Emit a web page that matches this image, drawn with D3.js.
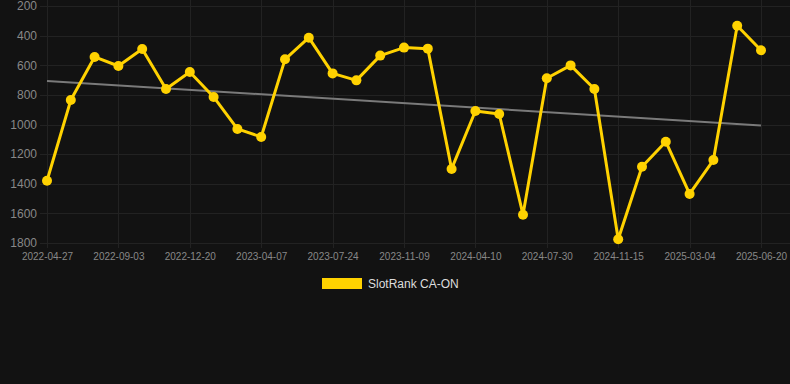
<!DOCTYPE html>
<html>
<head>
<meta charset="utf-8">
<script src="https://cdn.jsdelivr.net/npm/d3@7"></script>
<style>
  html, body { margin: 0; padding: 0; background: #121212; }
  svg { display: block; }
</style>
</head>
<body>
<svg id="chart" width="790" height="384"></svg>
<script>
// ---- data ----
const dates = [
  "2022-04-27","2022-06-08","2022-07-21","2022-09-03","2022-10-09","2022-11-14",
  "2022-12-20","2023-01-25","2023-03-02","2023-04-07","2023-05-13","2023-06-18",
  "2023-07-24","2023-08-29","2023-10-04","2023-11-09","2023-12-30","2024-02-19",
  "2024-04-10","2024-05-17","2024-06-23","2024-07-30","2024-09-05","2024-10-10",
  "2024-11-15","2024-12-21","2025-01-27","2025-03-04","2025-04-09","2025-05-15",
  "2025-06-20"
];
const ranks = [
  1380, 835, 544, 605, 490, 760, 646, 814, 1030, 1084,
  560, 414, 655, 702, 535, 481, 488, 1300, 909, 929,
  1609, 688, 601, 760, 1775, 1285, 1116, 1469, 1240, 333,
  499
];
const yTicks = [200, 400, 600, 800, 1000, 1200, 1400, 1600, 1800];
const seriesName = "SlotRank CA-ON";

(function () {
// ---- layout ----
const W = 790, H = 384;
const pLeft = 47, pRight = 761, pTop = 6, pBottom = 243;
const svg = d3.select("#chart");

const x = d3.scalePoint().domain(dates).range([pLeft, pRight]);
const y = d3.scaleLinear().domain([200, 1800]).range([pTop, pBottom]);

const gridColor = "#222222";
const labelColor = "#888888";

// horizontal grid
svg.append("g").selectAll("line").data(yTicks).join("line")
  .attr("x1", 40).attr("x2", W)
  .attr("y1", d => Math.round(y(d)) + 0.5).attr("y2", d => Math.round(y(d)) + 0.5)
  .attr("stroke", gridColor).attr("stroke-width", 1);

// vertical grid (every 3rd category)
const xTickDates = dates.filter((d, i) => i % 3 === 0);
svg.append("g").selectAll("line").data(xTickDates).join("line")
  .attr("x1", d => Math.round(x(d)) + 0.5).attr("x2", d => Math.round(x(d)) + 0.5)
  .attr("y1", 0).attr("y2", pBottom + 5)
  .attr("stroke", gridColor).attr("stroke-width", 1);

// y axis labels
const yAxis = d3.axisLeft(y).tickValues(yTicks).tickFormat(d3.format("d")).tickSize(0).tickPadding(0);
const gy = svg.append("g").attr("transform", `translate(37,0)`).call(yAxis);
gy.select(".domain").remove();
gy.selectAll("text")
  .attr("fill", labelColor)
  .style("font-family", "Liberation Sans, Arial, sans-serif")
  .style("font-size", "12px");

// x axis labels
const xAxis = d3.axisBottom(x).tickValues(xTickDates).tickSize(0).tickPadding(0);
const gx = svg.append("g").attr("transform", `translate(0,${pBottom + 10})`).call(xAxis);
gx.select(".domain").remove();
gx.selectAll("text")
  .attr("fill", labelColor)
  .attr("dy", "0.71em")
  .style("font-family", "Liberation Sans, Arial, sans-serif")
  .style("font-size", "10px");

// trend line (least squares over index)
const n = ranks.length;
const idx = d3.range(n);
const mx = d3.mean(idx), my = d3.mean(ranks);
const slope = d3.sum(idx, i => (i - mx) * (ranks[i] - my)) / d3.sum(idx, i => (i - mx) ** 2);
const intercept = my - slope * mx;
svg.append("line")
  .attr("x1", x(dates[0])).attr("y1", y(intercept))
  .attr("x2", x(dates[n - 1])).attr("y2", y(intercept + slope * (n - 1)))
  .attr("stroke", "#7a7a7a").attr("stroke-width", 2);

// main line
const gold = "#ffd200";
const line = d3.line().x((d, i) => x(dates[i])).y(d => y(d));
svg.append("path").datum(ranks)
  .attr("d", line).attr("fill", "none")
  .attr("stroke", gold).attr("stroke-width", 3).attr("stroke-linejoin", "round");

svg.append("g").selectAll("circle").data(ranks).join("circle")
  .attr("cx", (d, i) => x(dates[i])).attr("cy", d => y(d))
  .attr("r", 5).attr("fill", gold);

// legend
const lg = svg.append("g");
lg.append("rect").attr("x", 322).attr("y", 278).attr("width", 40).attr("height", 11).attr("fill", gold);
lg.append("text").attr("x", 368).attr("y", 284).attr("dy", "0.35em")
  .attr("fill", "#dddddd")
  .style("font-family", "Liberation Sans, Arial, sans-serif")
  .style("font-size", "12px")
  .text(seriesName);
})();
</script>
</body>
</html>
